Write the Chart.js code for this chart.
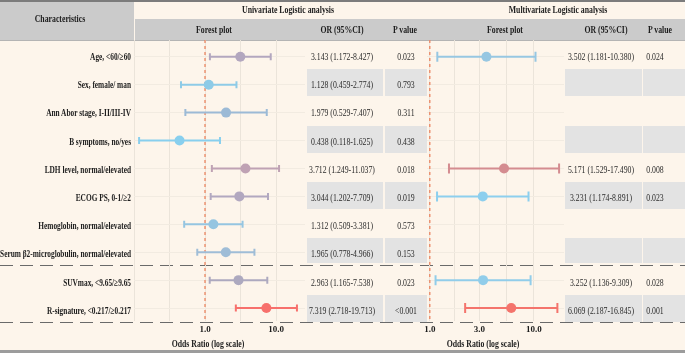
<!DOCTYPE html>
<html lang="en">
<head>
<meta charset="UTF-8">
<script src="https://cdn.jsdelivr.net/npm/chart.js"></script>
<title>Forest plot</title>
<style>
    body { margin: 0; }
    #page { position: relative; width: 685px; height: 353px; background: #fdf5eb; overflow: hidden; font-family: 'Liberation Serif', 'Times New Roman', serif; color: #1c1c1c; }
    .box { position: absolute; }
    .t { position: absolute; white-space: nowrap; line-height: 1; }
    .c { transform: translate(-50%, -50%) scaleX(0.74); transform-origin: center center; }
    .r { transform: translate(-100%, -50%) scaleX(0.7); transform-origin: right center; }
    .bold { font-weight: bold; font-size: 10.5px; }
    .reg { font-size: 10.5px; color: #2a2a2a; }
    .dash { position: absolute; left: 0; width: 685px; height: 1px; background: repeating-linear-gradient(to right, #6a6a6a 0 13px, transparent 13px 20px); }
    canvas { position: absolute; left: 0; top: 0; }
</style>
</head>
<body>
<div id="page">
    <div class="box" style="left:0;top:0;width:685px;height:2px;background:#7c7c7c"></div>
    <div class="box" style="left:0;top:2px;width:134px;height:38px;background:#cbcbcb"></div>
    <div class="box" style="left:135px;top:19px;width:550px;height:21px;background:#cbcbcb"></div>
    <div class="box" style="left:0;top:40px;width:685px;height:1px;background:#b4b4b4"></div>
    <div class="box" style="left:0;top:350px;width:685px;height:3px;background:#9c9c9c"></div>
    <div id="cells"></div>
    <div class="dash" style="top:265px"></div>
    <div class="dash" style="top:322px"></div>
    <canvas id="uniChart" width="685" height="353"></canvas>
    <canvas id="multiChart" width="685" height="353"></canvas>
    <div id="texts"></div>
</div>
<script>
    const categories = ['Age, <60/\u226560', 'Sex, female/ man', 'Ann Abor stage, I-II/III-IV', 'B symptoms, no/yes',
        'LDH level, normal/elevated', 'ECOG PS, 0-1/\u22652', 'Hemoglobin, normal/elevated',
        'Serum \u03b22-microglobulin, normal/elevated', 'SUVmax, <9.65/\u22659.65', 'R-signature, <0.217/\u22650.217'];

    const uniOR = [3.143, 1.128, 1.979, 0.438, 3.712, 3.044, 1.312, 1.965, 2.963, 7.319];
    const uniLow = [1.172, 0.459, 0.529, 0.118, 1.249, 1.202, 0.509, 0.778, 1.165, 2.718];
    const uniHigh = [8.427, 2.774, 7.407, 1.625, 11.037, 7.709, 3.381, 4.966, 7.538, 19.713];
    const uniP = ['0.023', '0.793', '0.311', '0.438', '0.018', '0.019', '0.573', '0.153', '0.023', '<0.001'];

    const multiOR = [3.502, null, null, null, 5.171, 3.231, null, null, 3.252, 6.069];
    const multiLow = [1.181, null, null, null, 1.529, 1.174, null, null, 1.136, 2.187];
    const multiHigh = [10.380, null, null, null, 17.490, 8.891, null, null, 9.309, 16.845];
    const multiP = ['0.024', '', '', '', '0.008', '0.023', '', '', '0.028', '0.001'];

    const uniTicks = [0.1, 0.316, 1, 3.16, 10];
    const uniTickLabels = ['', '', '1.0', '', '10.0'];
    const multiTicks = [1, 1.732, 3, 5.477, 10];
    const multiTickLabels = ['1.0', '', '3.0', '', '10.0'];

    // colours of the marks, row by row
    const uniColors = ['#b3a7bf', '#8ecbe7', '#9cbad6', '#88cfee', '#bfa2b4', '#b2a8c0', '#95c5e1', '#9fbdd7', '#ada9bf', '#f7706c'];
    const multiColors = ['#97c7e2', null, null, null, '#d48c90', '#8dcfee', null, null, '#91cdea', '#f4746c'];

    const rowY = i => 57 + 28.2 * i;

    // table cells and text
    const cells = document.getElementById('cells');
    const texts = document.getElementById('texts');
    function box(x, y, w, h, bg) {
        const d = document.createElement('div');
        d.className = 'box';
        d.style.cssText = `left:${x}px;top:${y}px;width:${w}px;height:${h}px;background:${bg}`;
        cells.appendChild(d);
    }
    function txt(s, x, y, cls) {
        const d = document.createElement('div');
        d.className = 't ' + cls;
        d.style.left = x + 'px';
        d.style.top = y + 'px';
        d.textContent = s;
        texts.appendChild(d);
    }

    categories.forEach((c, i) => {
        if (i % 2 == 1) {
            const top = 41 + 28.2 * i;
            const h = i == 7 ? 25 : 27;
            box(307, top, 76, h, '#e3e3e3');
            box(385, top, 42, h, '#e3e3e3');
            box(565, top, 77, h, '#e3e3e3');
            box(643, top, 42, h, '#e3e3e3');
        }
        txt(c, 131, rowY(i), 'r bold');
        txt(`${uniOR[i].toFixed(3)} (${uniLow[i].toFixed(3)}-${uniHigh[i].toFixed(3)})`, 342, rowY(i), 'c reg');
        txt(uniP[i], 406, rowY(i), 'c reg');
        if (multiOR[i] != null) {
            txt(`${multiOR[i].toFixed(3)} (${multiLow[i].toFixed(3)}-${multiHigh[i].toFixed(3)})`, 601, rowY(i), 'c reg');
            txt(multiP[i], 655, rowY(i), 'c reg');
        }
    });

    txt('Characteristics', 60, 19, 'c bold');
    txt('Univariate Logistic analysis', 288, 10, 'c bold');
    txt('Multivariate Logistic analysis', 558, 10, 'c bold');
    txt('Forest plot', 214, 30, 'c bold');
    txt('OR (95%CI)', 342, 30, 'c bold');
    txt('P value', 405, 30, 'c bold');
    txt('Forest plot', 505, 30, 'c bold');
    txt('OR (95%CI)', 606, 30, 'c bold');
    txt('P value', 660, 30, 'c bold');
    txt('Odds Ratio (log scale)', 208, 344, 'c bold');
    txt('Odds Ratio (log scale)', 483, 344, 'c bold');

    function forest(canvasId, or, low, high, colors, ticks, tickLabels, xmin, xmax, left, right, cap) {
        const datasets = [];
        const points = [];
        const pointColors = [];
        or.forEach((v, i) => {
            if (v == null) return;
            datasets.push({
                data: [{ x: low[i], y: i + 1 }, { x: high[i], y: i + 1 }],
                showLine: true,
                borderColor: colors[i],
                borderWidth: 2,
                pointStyle: 'line',
                pointRotation: 90,
                pointRadius: cap,
                pointBorderColor: colors[i],
                pointBorderWidth: 2,
                order: 2
            });
            points.push({ x: v, y: i + 1 });
            pointColors.push(colors[i]);
        });
        datasets.push({
            data: points,
            backgroundColor: pointColors,
            borderWidth: 0,
            pointRadius: 5,
            order: 1
        });
        datasets.push({
            data: [{ x: 1, y: 0.4 }, { x: 1, y: 10.5 }],
            showLine: true,
            borderColor: '#eb8560',
            borderWidth: 1.3,
            borderDash: [3, 3],
            pointRadius: 0,
            order: 3
        });

        return new Chart(document.getElementById(canvasId), {
            type: 'scatter',
            data: { datasets: datasets },
            options: {
                responsive: false,
                devicePixelRatio: 1,
                animation: false,
                events: [],
                layout: { padding: { left: left, right: 685 - right, top: 40, bottom: 15 } },
                plugins: { legend: { display: false }, tooltip: { enabled: false } },
                scales: {
                    x: {
                        type: 'logarithmic',
                        min: xmin,
                        max: xmax,
                        bounds: 'data',
                        afterBuildTicks: s => { s.ticks = ticks.map(v => ({ value: v })); },
                        grid: { color: '#ebe4da', drawTicks: false },
                        border: { display: false },
                        ticks: {
                            autoSkip: false,
                            maxRotation: 0,
                            padding: 3,
                            color: '#1c1c1c',
                            font: { family: 'Liberation Serif', size: 9, weight: 'bold' },
                            callback: (val, idx) => tickLabels[idx]
                        }
                    },
                    y: {
                        type: 'linear',
                        min: 0.4,
                        max: 10.47,
                        reverse: true,
                        afterBuildTicks: s => { s.ticks = categories.map((c, i) => ({ value: i + 1 })); },
                        grid: { color: '#f2ebe1', drawTicks: false },
                        border: { display: false },
                        ticks: { display: false }
                    }
                }
            }
        });
    }

    const uniChart = forest('uniChart', uniOR, uniLow, uniHigh, uniColors, uniTicks, uniTickLabels, 0.1, 25.6, 134, 305, 3.5);
    const multiChart = forest('multiChart', multiOR, multiLow, multiHigh, multiColors, multiTicks, multiTickLabels, 0.94, 19.5, 427, 564, 5);
</script>
</body>
</html>
